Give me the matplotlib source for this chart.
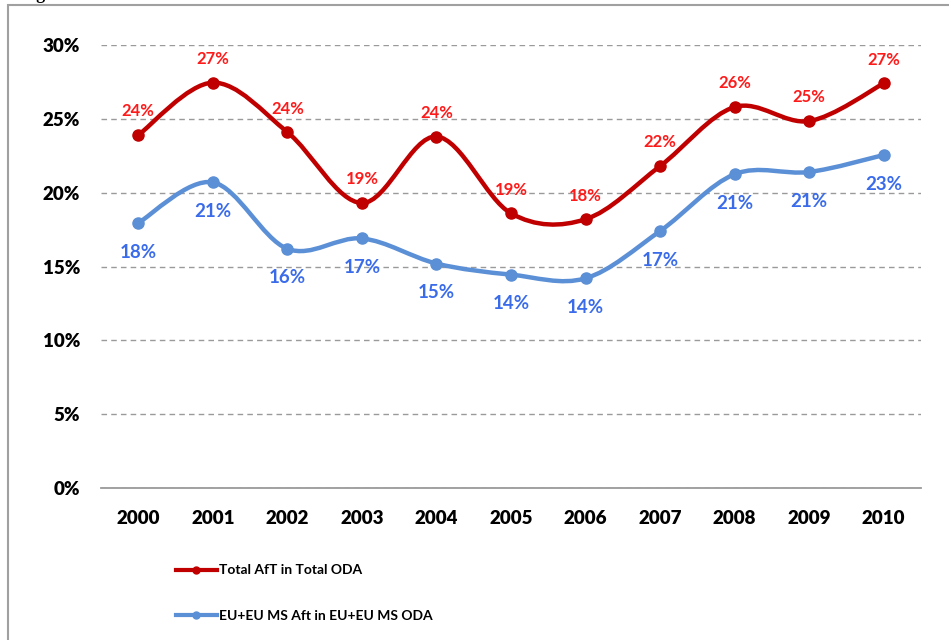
import matplotlib
matplotlib.use('Agg')
import matplotlib.pyplot as plt
from matplotlib.path import Path
from matplotlib.patches import PathPatch, Rectangle
from matplotlib.lines import Line2D
from matplotlib.ticker import PercentFormatter

years = ['2000', '2001', '2002', '2003', '2004', '2005', '2006', '2007', '2008', '2009', '2010']
total_aft = [23.9, 27.45, 24.1, 19.3, 23.8, 18.6, 18.2, 21.8, 25.8, 24.85, 27.4]
eu_aft = [17.95, 20.7, 16.2, 16.9, 15.2, 14.45, 14.2, 17.4, 21.25, 21.4, 22.55]
total_labels = ['24%', '27%', '24%', '19%', '24%', '19%', '18%', '22%', '26%', '25%', '27%']
eu_labels = ['18%', '21%', '16%', '17%', '15%', '14%', '14%', '17%', '21%', '21%', '23%']

RED_LINE = '#C00000'
RED_TEXT = '#FF1A1A'
BLUE_LINE = '#5B8FD6'
BLUE_TEXT = '#3A6BEA'
FONT = 'Lato'


def smooth_path(xs, ys):
    # excel style smoothed line: catmull-rom segments as cubic beziers
    pts = list(zip(xs, ys))
    n = len(pts)
    verts = [pts[0]]
    codes = [Path.MOVETO]
    for i in range(n - 1):
        p0 = pts[max(i - 1, 0)]
        p1 = pts[i]
        p2 = pts[i + 1]
        p3 = pts[min(i + 2, n - 1)]
        c1 = (p1[0] + (p2[0] - p0[0]) / 6, p1[1] + (p2[1] - p0[1]) / 6)
        c2 = (p2[0] - (p3[0] - p1[0]) / 6, p2[1] - (p3[1] - p1[1]) / 6)
        verts += [c1, c2, p2]
        codes += [Path.CURVE4] * 3
    return Path(verts, codes)


fig = plt.figure(figsize=(9.49, 6.4), dpi=100)
ax = fig.add_axes([101 / 949, 1 - 488 / 640, 820 / 949, 443 / 640])

xs = list(range(len(years)))
for vals, col in [(total_aft, RED_LINE), (eu_aft, BLUE_LINE)]:
    ax.add_patch(PathPatch(smooth_path(xs, vals), facecolor='none', edgecolor=col,
                           lw=3.2, capstyle='round', joinstyle='round', zorder=3))
    ax.plot(xs, vals, linestyle='none', marker='o', ms=8, color=col, zorder=4)

for x, v, t in zip(xs, total_aft, total_labels):
    ax.annotate(t, (x, v), xytext=(0, 17), textcoords='offset points', ha='center', va='center',
                color=RED_TEXT, fontsize=12, family=FONT, fontweight='bold')
for x, v, t in zip(xs, eu_aft, eu_labels):
    ax.annotate(t, (x, v), xytext=(0, -21), textcoords='offset points', ha='center', va='center',
                color=BLUE_TEXT, fontsize=13.5, family=FONT, fontweight='bold')

ax.set_xlim(-0.5, len(years) - 0.5)
ax.set_ylim(0, 30)
ax.set_yticks([0, 5, 10, 15, 20, 25, 30])
ax.yaxis.set_major_formatter(PercentFormatter(decimals=0))
ax.set_xticks(xs)
ax.set_xticklabels(years)
ax.grid(axis='y', linestyle=(0, (4, 3)), color='#9A9A9A', lw=1)
ax.set_axisbelow(True)
for s in ['left', 'right', 'top']:
    ax.spines[s].set_visible(False)
ax.spines['bottom'].set_color('#9A9A9A')
ax.spines['bottom'].set_linewidth(1.3)
ax.tick_params(length=0)
ax.tick_params(axis='y', pad=15)
ax.tick_params(axis='x', pad=16)
for lab in ax.get_xticklabels() + ax.get_yticklabels():
    lab.set_family(FONT)
    lab.set_fontweight('heavy')
    lab.set_fontsize(13.5)

handles = [Line2D([], [], color=RED_LINE, lw=3, marker='o', ms=5),
           Line2D([], [], color=BLUE_LINE, lw=3, marker='o', ms=5)]
fig.legend(handles, ['Total AfT in Total ODA', 'EU+EU MS Aft in EU+EU MS ODA'],
           loc='upper left', bbox_to_anchor=(163 / 949, 1 - 552 / 640), frameon=False,
           labelspacing=2.4, handlelength=3.0, handletextpad=0.1,
           prop={'family': FONT, 'weight': 'bold', 'size': 10})

# outer frame of the chart box, cut off at right and bottom
fig.patches.append(Rectangle((8 / 949, -0.1), 1.2, 1.1 - 5 / 640, transform=fig.transFigure,
                             fill=False, edgecolor='#A0A0A0', lw=1.5))
fig.text(20 / 949, 1 - 3 / 640, 'Figure 5: Share of AfT in Total ODA of EU+EU Member States and of all donors',
         ha='left', va='bottom', fontsize=13, family='Liberation Serif', fontweight='bold')

fig.savefig('out.png', dpi=100, facecolor='white')
